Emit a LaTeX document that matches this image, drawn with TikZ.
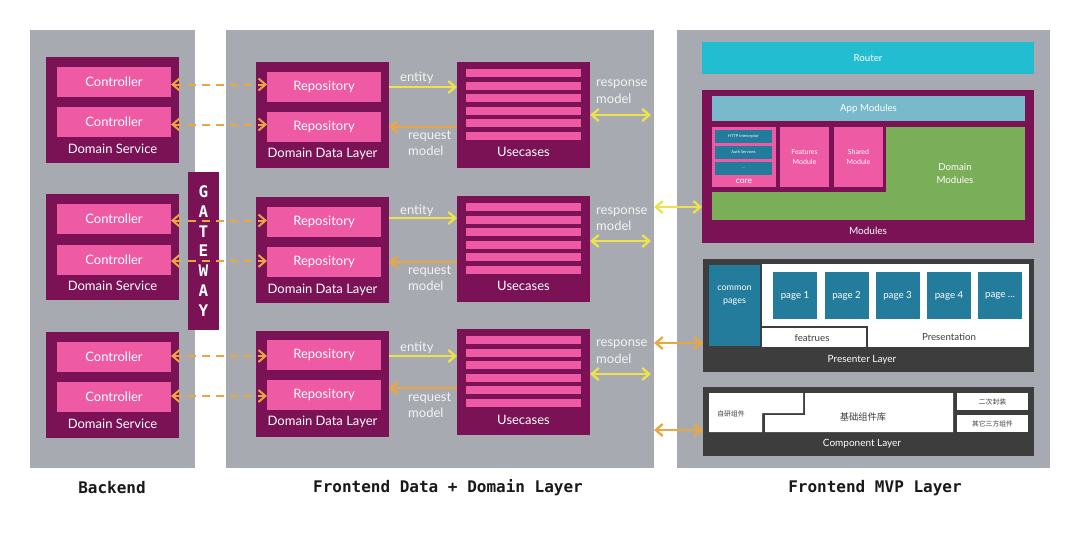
\documentclass[tikz,border=0pt]{standalone}
\usepackage{fontspec}
\setmainfont{Lato}
\setmonofont{DejaVu Sans Mono}
\newfontfamily\cjk{Noto Sans CJK SC}
\usetikzlibrary{arrows.meta,calc}
\definecolor{panel}{HTML}{A8AAB1}
\definecolor{dpurple}{HTML}{7A1255}
\definecolor{pinkc}{HTML}{EF5AA5}
\definecolor{yel}{HTML}{EEE24B}
\definecolor{ora}{HTML}{EAA640}
\definecolor{routerc}{HTML}{22BDD1}
\definecolor{appc}{HTML}{78B9CB}
\definecolor{greenc}{HTML}{7BAE58}
\definecolor{tealc}{HTML}{237C9C}
\definecolor{dgray}{HTML}{3D3D3D}
\definecolor{lightw}{HTML}{F4F4F4}
\begin{document}
\begin{tikzpicture}[x=1pt,y=-1pt,
  box/.style={inner sep=0pt, outer sep=0pt, draw=none},
  sz/.style 2 args={minimum width=#1pt, minimum height=#2pt},
  pnl/.style={box, fill=panel},
  dp/.style={box, fill=dpurple},
  pk/.style={box, fill=pinkc, text=white, font=\fontsize{13}{15}\selectfont},
  lbl/.style={text=white, inner sep=0pt, font=\fontsize{13}{15}\selectfont},
  glbl/.style={text=lightw, inner sep=0pt, anchor=west, align=left, font=\fontsize{13}{16.5}\selectfont},
  barb/.tip={Straight Barb[length=7pt,width=12pt]},
  yar/.style={draw=yel, line width=2.3pt, -barb},
  oar/.style={draw=ora, line width=2.3pt, -barb},
  ybi/.style={draw=yel, line width=2.3pt, barb-barb},
  obi/.style={draw=ora, line width=2.3pt, barb-barb},
  dar/.style={draw=ora, line width=2pt, dash pattern=on 8pt off 6pt, barb-barb},
  rt/.style={text=white, inner sep=0pt, font=\fontsize{9.7}{11}\selectfont},
  wbox/.style={box, fill=white},
  tbox/.style={box, fill=tealc, text=white, font=\fontsize{9.7}{11}\selectfont},
  cj/.style={inner sep=0pt, text=dgray},
  btm/.style={inner sep=0pt, text=black!90, font=\ttfamily\bfseries\fontsize{16}{18}\selectfont}
]
\useasboundingbox[fill=white] (0,0) rectangle (1080,554);

% panels
\node[pnl,sz={165}{438}] (be) at (112.5,249) {};
\node[pnl,sz={428}{438}] (mid) at (440,249) {};
\node[pnl,sz={373}{438}] (rp) at (863.5,249) {};

% Backend domain services
\node[dp,sz={133}{106}] (ds1) at (112.5,110) {};
\node[pk,sz={114}{30}] (c1) at (114,82) {Controller};
\node[pk,sz={114}{30}] (c2) at (114,122) {Controller};
\node[lbl] (ds1t) at (112.5,149) {Domain Service};

\node[dp,sz={133}{106}] (ds2) at (112.5,247) {};
\node[pk,sz={114}{30}] (c3) at (114,219) {Controller};
\node[pk,sz={114}{30}] (c4) at (114,260) {Controller};
\node[lbl] (ds2t) at (112.5,286) {Domain Service};

\node[dp,sz={133}{106}] (ds3) at (112.5,385) {};
\node[pk,sz={114}{30}] (c5) at (114,357) {Controller};
\node[pk,sz={114}{30}] (c6) at (114,397) {Controller};
\node[lbl] (ds3t) at (112.5,424) {Domain Service};

% Gateway
\node[dp,sz={31}{158},text=white,align=center,
  font=\ttfamily\bfseries\fontsize{16}{19.7}\selectfont] (gw) at (203.5,251) {G\\A\\T\\E\\W\\A\\Y};

% Domain Data Layers
\node[dp,sz={133}{106}] (ddl1) at (322.5,115) {};
\node[pk,sz={114}{30}] (r1) at (324,87) {Repository};
\node[pk,sz={114}{30}] (r2) at (324,127) {Repository};
\node[lbl] (ddl1t) at (322.5,154) {Domain Data Layer};

\node[dp,sz={133}{106}] (ddl2) at (322.5,250) {};
\node[pk,sz={114}{30}] (r3) at (324,222) {Repository};
\node[pk,sz={114}{30}] (r4) at (324,262) {Repository};
\node[lbl] (ddl2t) at (322.5,290) {Domain Data Layer};

\node[dp,sz={133}{106}] (ddl3) at (322.5,383.5) {};
\node[pk,sz={114}{30}] (r5) at (324,355) {Repository};
\node[pk,sz={114}{30}] (r6) at (324,395) {Repository};
\node[lbl] (ddl3t) at (322.5,422) {Domain Data Layer};

% Usecases
\node[dp,sz={133}{106}] (uc1) at (523.5,115) {};
\node[dp,sz={133}{106}] (uc2) at (523.5,249) {};
\node[dp,sz={133}{106}] (uc3) at (523.5,382) {};
\foreach \dy in {0,134,267}{
  \foreach \t in {69,81.5,94,106.5,119,131.5}{
    \fill[pinkc] (466,\t+\dy) rectangle (581,\t+\dy+8);
  }
}
\node[lbl] (uc1t) at (523.5,152) {Usecases};
\node[lbl] (uc2t) at (523.5,286) {Usecases};
\node[lbl] (uc3t) at (523.5,420) {Usecases};

% dashed connectors backend <-> repositories
\foreach \c/\r in {c1/r1,c2/r2,c3/r3,c4/r4,c5/r5,c6/r6}{
  \coordinate (m\c) at ($(\c.east)!0.5!(\r.west)$);
  \draw[dar] (\c.east |- m\c) -- (\r.west |- m\c);
}

% entity / request arrows
\draw[yar] (ddl1.east |- r1) -- (uc1.west |- r1);
\draw[oar] (uc1.west |- r2) -- (ddl1.east |- r2);
\node[glbl] (e1) at (400,78) {entity};
\node[glbl] (q1) at (408,143) {request\\model};

\draw[yar] ($(ddl2.east |- r3)+(0,-4)$) -- ($(uc2.west |- r3)+(0,-4)$);
\draw[oar] (uc2.west |- r4) -- (ddl2.east |- r4);
\node[glbl] (e2) at (400,211) {entity};
\node[glbl] (q2) at (408,278) {request\\model};

\draw[yar] ($(ddl3.east |- r5)+(0,1)$) -- ($(uc3.west |- r5)+(0,1)$);
\draw[oar] ($(uc3.west |- r6)+(0,-7)$) -- ($(ddl3.east |- r6)+(0,-7)$);
\node[glbl] (e3) at (400,348) {entity};
\node[glbl] (q3) at (408,405) {request\\model};

% response arrows
\node[glbl] (p1) at (596,91.5) {response\\model};
\draw[ybi] (uc1.east) -- ($(uc1.east -| mid.east)+(-3,0)$);
\node[glbl] (p2) at (596,219) {response\\model};
\draw[ybi] ($(uc2.east)+(0,-8)$) -- ($(uc2.east -| mid.east)+(-3,-8)$);
\node[glbl] (p3) at (596,351.5) {response\\model};
\draw[ybi] ($(uc3.east)+(0,-8)$) -- ($(uc3.east -| mid.east)+(-3,-8)$);

% Right panel
\node[box,fill=routerc,sz={332}{32},rt] (router) at (868,58) {Router};

\node[dp,sz={332}{153}] (mods) at (868,166.5) {};
\node[box,fill=appc,sz={313}{25},rt] (appm) at (868.5,108.5) {App Modules};
\fill[greenc] (712,127) rectangle (1025,220);
\fill[dpurple] (712,127) rectangle (886,192);
\node[box,fill=pinkc,sz={64}{60}] (core) at (744,157) {};
\node[box,fill=tealc,sz={57}{13},text=white,font=\fontsize{4}{5}\selectfont] (http) at (743.5,136.5) {HTTP interceptor};
\node[box,fill=tealc,sz={57}{13},text=white,font=\fontsize{4}{5}\selectfont] (auth) at (743.5,152.5) {Auth Services};
\node[box,fill=tealc,sz={57}{13},text=white,font=\fontsize{4}{5}\selectfont] (dots) at (743.5,168.5) {...};
\node[rt,font=\fontsize{8.5}{10}\selectfont] (coret) at (744,181) {core};
\node[box,fill=pinkc,sz={49}{60},text=white,align=center,font=\fontsize{7}{10}\selectfont] (feat) at (804.5,157) {Features\\Module};
\node[box,fill=pinkc,sz={49}{60},text=white,align=center,font=\fontsize{7}{10}\selectfont] (shared) at (858.5,157) {Shared\\Module};
\node[rt,align=center,font=\fontsize{9.7}{13}\selectfont] (domm) at (955,173) {Domain\\Modules};
\node[rt,font=\fontsize{10}{11}\selectfont] (modst) at (868,231) {Modules};

% Presenter Layer
\node[box,fill=dgray,sz={331}{113}] (pl) at (868.5,315.5) {};
\node[box,fill=tealc,sz={51}{81}] (common) at (734.5,305.5) {};
\node[rt,align=center,font=\fontsize{9}{13}\selectfont] (commont) at (734.5,296) {common\\pages};
\fill[white] (762,264) rectangle (1029,347);
\draw[dgray,line width=2.5pt] (762,327) -- (867,327) -- (867,347);
\node[tbox,sz={44}{47}] (pg1) at (795,295.5) {page 1};
\node[tbox,sz={44}{47}] (pg2) at (846.5,295.5) {page 2};
\node[tbox,sz={44}{47}] (pg3) at (897.5,295.5) {page 3};
\node[tbox,sz={44}{47}] (pg4) at (949,295.5) {page 4};
\node[tbox,sz={44}{47}] (pg5) at (1000,295.5) {page ...};
\node[cj,font=\fontsize{9.7}{11}\selectfont] (presen) at (949,337) {Presentation};
\node[cj,font=\fontsize{9.7}{11}\selectfont] (featr) at (812,338.5) {featrues};
\node[rt,font=\fontsize{10}{11}\selectfont] (plt) at (862,360) {Presenter Layer};

% Component Layer
\node[box,fill=dgray,sz={331}{69}] (cl) at (868.5,421.5) {};
\fill[white] (709,393) -- (803,393) -- (803,413) -- (762,413) -- (762,432) -- (709,432) -- cycle;
\fill[white] (805,393) -- (953,393) -- (953,432) -- (765,432) -- (765,415) -- (805,415) -- cycle;
\node[wbox,sz={71}{17},text=dgray,font=\cjk\fontsize{6.8}{8}\selectfont] (erci) at (992.5,401.5) {二次封装};
\node[wbox,sz={71}{17},text=dgray,font=\cjk\fontsize{6.8}{8}\selectfont] (qita) at (992.5,423.5) {其它三方组件};
\node[cj,font=\cjk\fontsize{6.8}{8}\selectfont] (ziyan) at (731,414) {自研组件};
\node[cj,font=\cjk\fontsize{9.3}{11}\selectfont] (jichu) at (863,417) {基础组件库};
\node[rt,font=\fontsize{10}{11}\selectfont] (clt) at (862,444) {Component Layer};

% cross arrows
\draw[ybi] (mid.east |- 0,207) -- (mods.west |- 0,207);
\draw[obi] (mid.east |- 0,343) -- (pl.west |- 0,343);
\draw[obi] (mid.east |- 0,430) -- (cl.west |- 0,430);

% bottom titles
\node[btm] (t1) at (112,488) {Backend};
\node[btm] (t2) at (448,488) {Frontend Data + Domain Layer};
\node[btm] (t3) at (875,488) {Frontend MVP Layer};
\end{tikzpicture}
\end{document}
